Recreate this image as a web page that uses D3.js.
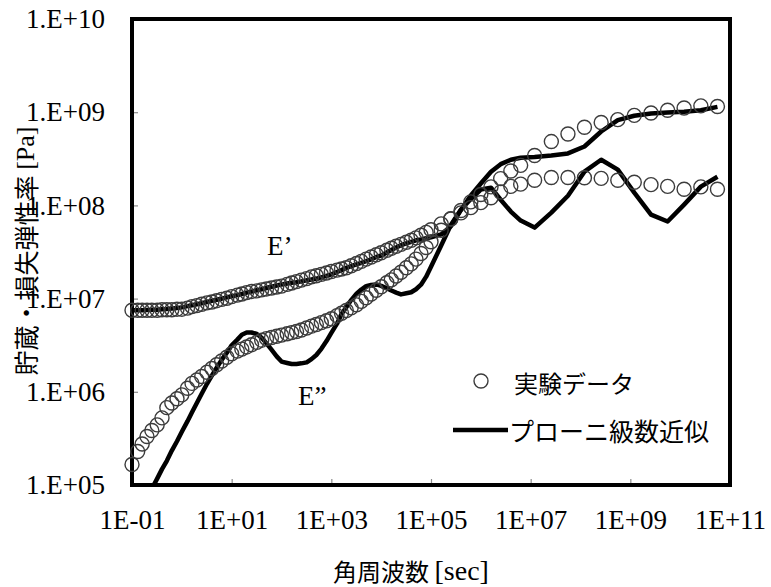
<!DOCTYPE html>
<html>
<head>
<meta charset="utf-8">
<script src="https://cdn.jsdelivr.net/npm/d3@7"></script>
<style>
  body { margin: 0; background: #fff; }
</style>
</head>
<body>
<svg id="chart" width="771" height="587"></svg>
<script>
// angular frequency of every measured point (the fit is evaluated at the same ones)
const omega = [
  0.1, 0.13, 0.16, 0.2, 0.25, 0.32, 0.4, 0.5, 0.63, 0.8,
  1, 1.3, 1.6, 2, 2.5, 3.2, 4, 5, 6.3, 8,
  10, 13, 16, 20, 25, 32, 40, 50, 63, 80,
  100, 130, 160, 200, 250, 320, 400, 500, 630, 800,
  1e3, 1.3e3, 1.6e3, 2e3, 2.5e3, 3.2e3, 4e3, 5e3, 6.3e3, 8e3,
  1e4, 1.3e4, 1.6e4, 2e4, 2.5e4, 3.2e4, 4e4, 5e4, 6.3e4, 8e4,
  1e5, 1.6e5, 2.5e5, 4e5, 6.3e5,
  1e6, 1.6e6, 2.5e6, 4e6, 6.3e6,
  1.2e7, 2.6e7, 5.6e7,
  1.2e8, 2.6e8, 5.6e8,
  1.2e9, 2.6e9, 5.6e9,
  1.2e10, 2.6e10, 5.6e10
];

// measured storage modulus E' [Pa]
const storageExp = [
  7.5e6, 7.5e6, 7.5e6, 7.5e6, 7.5e6, 7.5e6, 7.6e6, 7.6e6, 7.6e6, 7.7e6,
  7.7e6, 7.9e6, 8.2e6, 8.4e6, 8.7e6, 9.0e6, 9.2e6, 9.5e6, 9.8e6, 1.01e7,
  1.05e7, 1.09e7, 1.12e7, 1.16e7, 1.19e7, 1.21e7, 1.24e7, 1.27e7, 1.30e7, 1.33e7,
  1.36e7, 1.42e7, 1.47e7, 1.52e7, 1.58e7, 1.64e7, 1.71e7, 1.76e7, 1.82e7, 1.88e7,
  1.95e7, 2.02e7, 2.08e7, 2.14e7, 2.25e7, 2.38e7, 2.51e7, 2.65e7, 2.79e7, 2.95e7,
  3.10e7, 3.30e7, 3.47e7, 3.64e7, 3.82e7, 4.03e7, 4.23e7, 4.48e7, 4.79e7, 5.13e7,
  5.47e7, 6.34e7, 7.18e7, 8.83e7, 1.09e8,
  1.31e8, 1.58e8, 1.94e8, 2.34e8, 2.69e8,
  3.43e8, 4.84e8, 5.83e8,
  6.90e8, 7.76e8, 8.32e8,
  9.25e8, 9.82e8, 1.05e9,
  1.11e9, 1.17e9, 1.15e9
];

// measured loss modulus E'' [Pa]
const lossExp = [
  1.66e5, 2.29e5, 2.75e5, 3.31e5, 3.85e5, 4.42e5, 5.25e5, 6.76e5, 7.59e5, 8.41e5,
  9.27e5, 1.09e6, 1.23e6, 1.34e6, 1.46e6, 1.62e6, 1.78e6, 1.95e6, 2.14e6, 2.35e6,
  2.56e6, 2.73e6, 2.87e6, 3.03e6, 3.20e6, 3.39e6, 3.58e6, 3.72e6, 3.83e6, 3.94e6,
  4.06e6, 4.20e6, 4.31e6, 4.43e6, 4.61e6, 4.84e6, 5.06e6, 5.27e6, 5.52e6, 5.78e6,
  6.07e6, 6.56e6, 6.97e6, 7.45e6, 7.96e6, 8.57e6, 9.33e6, 1.02e7, 1.12e7, 1.23e7,
  1.34e7, 1.48e7, 1.59e7, 1.75e7, 1.92e7, 2.14e7, 2.36e7, 2.65e7, 3.05e7, 3.53e7,
  4.07e7, 5.41e7, 7.14e7, 8.32e7, 9.46e7,
  1.07e8, 1.21e8, 1.39e8, 1.60e8, 1.69e8,
  1.86e8, 1.99e8, 1.99e8,
  1.98e8, 1.95e8, 1.86e8,
  1.77e8, 1.67e8, 1.60e8,
  1.49e8, 1.58e8, 1.49e8
];

// Prony series fit of E' [Pa]
const storageFit = [
  7.5e6, 7.5e6, 7.5e6, 7.55e6, 7.6e6, 7.6e6, 7.7e6, 7.75e6, 7.85e6, 7.95e6,
  8.05e6, 8.3e6, 8.5e6, 8.7e6, 8.93e6, 9.2e6, 9.46e6, 9.72e6, 9.98e6, 1.03e7,
  1.06e7, 1.09e7, 1.12e7, 1.16e7, 1.19e7, 1.23e7, 1.26e7, 1.30e7, 1.34e7, 1.38e7,
  1.42e7, 1.45e7, 1.48e7, 1.50e7, 1.53e7, 1.57e7, 1.60e7, 1.64e7, 1.69e7, 1.75e7,
  1.82e7, 1.93e7, 2.02e7, 2.14e7, 2.23e7, 2.33e7, 2.42e7, 2.52e7, 2.64e7, 2.80e7,
  2.90e7, 3.13e7, 3.32e7, 3.53e7, 3.74e7, 3.91e7, 4.06e7, 4.22e7, 4.32e7, 4.44e7,
  4.54e7, 4.88e7, 5.98e7, 8.95e7, 1.28e8,
  1.72e8, 2.30e8, 2.77e8, 3.09e8, 3.25e8,
  3.31e8, 3.43e8, 3.61e8,
  4.29e8, 6.21e8, 8.22e8,
  9.16e8, 9.70e8, 9.93e8,
  1.01e9, 1.05e9, 1.14e9
];

// Prony series fit of E'' [Pa]
const lossFit = [
  3.5e4, 4.7e4, 5.8e4, 7.2e4, 9.1e4, 1.17e5, 1.48e5, 1.82e5, 2.34e5, 2.95e5,
  3.72e5, 4.84e5, 6.03e5, 7.59e5, 9.55e5, 1.22e6, 1.49e6, 1.81e6, 2.20e6, 2.63e6,
  3.16e6, 3.63e6, 4.09e6, 4.32e6, 4.33e6, 4.17e6, 3.80e6, 3.31e6, 2.83e6, 2.40e6,
  2.11e6, 2.04e6, 1.99e6, 1.99e6, 2.02e6, 2.07e6, 2.24e6, 2.48e6, 2.89e6, 3.50e6,
  4.28e6, 5.38e6, 6.84e6, 8.09e6, 9.64e6, 1.13e7, 1.25e7, 1.36e7, 1.40e7, 1.42e7,
  1.37e7, 1.29e7, 1.22e7, 1.16e7, 1.11e7, 1.14e7, 1.17e7, 1.26e7, 1.41e7, 1.72e7,
  2.19e7, 3.72e7, 6.17e7, 9.04e7, 1.17e8,
  1.48e8, 1.55e8, 1.15e8, 8.59e7, 6.88e7,
  5.78e7, 8.38e7, 1.27e8,
  2.30e8, 3.09e8, 2.42e8,
  1.37e8, 7.97e7, 6.71e7,
  1.02e8, 1.59e8, 2.03e8
];

const xTicks = [1e-1, 1e1, 1e3, 1e5, 1e7, 1e9, 1e11];
const xTickLabels = ['1E-01', '1E+01', '1E+03', '1E+05', '1E+07', '1E+09', '1E+11'];
const yTicks = [1e5, 1e6, 1e7, 1e8, 1e9, 1e10];
const yTickLabels = ['1.E+05', '1.E+06', '1.E+07', '1.E+08', '1.E+09', '1.E+10'];

const serif = '"Liberation Serif", "Noto Sans CJK JP", serif';
const jp = '"Noto Sans CJK JP", sans-serif';

const svg = d3.select('#chart');

const plotLeft = 132, plotRight = 730, plotTop = 19, plotBottom = 485;

const x = d3.scaleLog().domain([1e-1, 1e11]).range([plotLeft, plotRight]);
const y = d3.scaleLog().domain([1e5, 1e10]).range([plotBottom, plotTop]);

svg.append('defs').append('clipPath')
  .attr('id', 'plot-clip')
  .append('rect')
  .attr('x', plotLeft).attr('y', plotTop)
  .attr('width', plotRight - plotLeft).attr('height', plotBottom - plotTop);

// axes: small grey ticks pointing inwards
const xAxis = d3.axisBottom(x)
  .tickValues(xTicks)
  .tickFormat((d, i) => xTickLabels[i])
  .tickSizeInner(-6)
  .tickSizeOuter(0)
  .tickPadding(25);

const yAxis = d3.axisLeft(y)
  .tickValues(yTicks)
  .tickFormat((d, i) => yTickLabels[i])
  .tickSizeInner(-6)
  .tickSizeOuter(0)
  .tickPadding(27);

const gx = svg.append('g')
  .attr('transform', `translate(0, ${plotBottom})`)
  .call(xAxis);

const gy = svg.append('g')
  .attr('transform', `translate(${plotLeft}, 0)`)
  .call(yAxis);

[gx, gy].forEach(g => {
  g.attr('font-family', serif).attr('font-size', 27);
  g.select('.domain').remove();
  g.selectAll('.tick line').attr('stroke', '#8c8c8c').attr('stroke-width', 1.2);
  g.selectAll('.tick text').attr('fill', '#000');
});

// plot frame
svg.append('rect')
  .attr('x', plotLeft).attr('y', plotTop)
  .attr('width', plotRight - plotLeft).attr('height', plotBottom - plotTop)
  .attr('fill', 'none')
  .attr('stroke', '#000')
  .attr('stroke-width', 4);

// fitted curves
const line = d3.line()
  .x(d => x(d[0]))
  .y(d => y(d[1]));

const fits = [d3.zip(omega, storageFit), d3.zip(omega, lossFit)];

svg.append('g')
  .attr('clip-path', 'url(#plot-clip)')
  .selectAll('path')
  .data(fits)
  .enter()
  .append('path')
  .attr('d', line)
  .attr('fill', 'none')
  .attr('stroke', '#000')
  .attr('stroke-width', 4.5)
  .attr('stroke-linejoin', 'round');

// measured points
const points = d3.zip(omega, storageExp).concat(d3.zip(omega, lossExp));

svg.append('g')
  .selectAll('circle')
  .data(points)
  .enter()
  .append('circle')
  .attr('cx', d => x(d[0]))
  .attr('cy', d => y(d[1]))
  .attr('r', 7)
  .attr('fill', 'none')
  .attr('stroke', '#3c3c3c')
  .attr('stroke-width', 1.4);

// curve labels
svg.append('text')
  .attr('x', 267).attr('y', 255)
  .attr('font-family', serif).attr('font-size', 27)
  .text('E\u2019');

svg.append('text')
  .attr('x', 298).attr('y', 405)
  .attr('font-family', serif).attr('font-size', 27)
  .text('E\u201D');

// legend
svg.append('circle')
  .attr('cx', 481).attr('cy', 381).attr('r', 7)
  .attr('fill', 'none')
  .attr('stroke', '#3c3c3c')
  .attr('stroke-width', 1.4);

svg.append('text')
  .attr('x', 514).attr('y', 382)
  .attr('dominant-baseline', 'central')
  .attr('font-family', jp).attr('font-size', 24)
  .text('実験データ');

svg.append('line')
  .attr('x1', 453).attr('x2', 508)
  .attr('y1', 430).attr('y2', 430)
  .attr('stroke', '#000')
  .attr('stroke-width', 4.5);

svg.append('text')
  .attr('x', 509).attr('y', 430)
  .attr('dominant-baseline', 'central')
  .attr('font-family', jp).attr('font-size', 25)
  .text('プローニ級数近似');

// axis titles: Japanese part in gothic, bracketed unit in serif
const xTitle = svg.append('text')
  .attr('x', 411).attr('y', 570)
  .attr('text-anchor', 'middle')
  .attr('dominant-baseline', 'central');
xTitle.append('tspan').attr('font-family', jp).attr('font-size', 24).text('角周波数 ');
xTitle.append('tspan').attr('font-family', serif).attr('font-size', 28).text('[sec]');

const yTitle = svg.append('text')
  .attr('transform', 'translate(25, 251) rotate(-90)')
  .attr('text-anchor', 'middle')
  .attr('dominant-baseline', 'central');
yTitle.append('tspan').attr('font-family', jp).attr('font-size', 25).text('貯蔵・損失弾性率 ');
yTitle.append('tspan').attr('font-family', serif).attr('font-size', 26).text('[Pa]');
</script>
</body>
</html>
